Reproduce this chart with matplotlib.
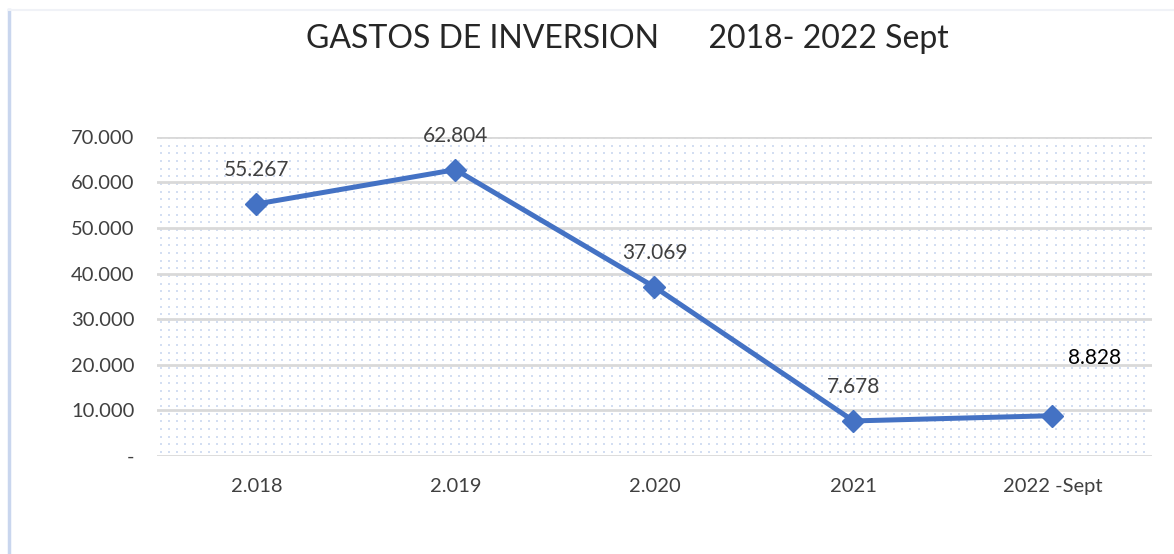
import matplotlib
matplotlib.use("Agg")
import matplotlib.pyplot as plt
import numpy as np
from matplotlib.lines import Line2D
from matplotlib.ticker import FuncFormatter

plt.rcParams["font.family"] = ["Lato", "DejaVu Sans"]

categories = ["2.018", "2.019", "2.020", "2021", "2022 -Sept"]
values = [55267, 62804, 37069, 7678, 8828]
labels = ["55.267", "62.804", "37.069", "7.678", "8.828"]
yticks = [0, 10000, 20000, 30000, 40000, 50000, 60000, 70000]

LINE = "#4472C4"
GRID = "#D9D9D9"
TXT = "#404040"


def fmt(v, _pos):
    if v == 0:
        return "-"
    return f"{v:,.0f}".replace(",", ".")


fig = plt.figure(figsize=(11.74, 5.54), dpi=100)
ax = fig.add_axes([0.1337, 0.177, 0.8475, 0.576])

x = np.arange(len(categories))
ax.set_xlim(-0.5, len(categories) - 0.5)
ax.set_ylim(0, 70000)

# dotted plot-area fill
gx, gy = np.meshgrid(np.arange(0.004, 1, 0.0081), np.arange(0.012, 1, 0.024))
ax.scatter(gx.ravel(), gy.ravel(), s=1.0, color="#D3DEF2", marker="s",
           linewidths=0, transform=ax.transAxes, zorder=0)

for t in yticks:
    ax.axhline(t, color=GRID, lw=2, zorder=1)

ax.plot(x, values, color=LINE, lw=3.6, marker="D", markersize=11,
        solid_capstyle="round", zorder=3)

offsets = [(0, 17), (0, 17), (0, 17), (0, 17), (30, 34)]
for i, (v, lab) in enumerate(zip(values, labels)):
    ax.annotate(lab, (x[i], v), xytext=offsets[i], textcoords="offset points",
                ha="center", va="bottom", fontsize=15,
                color="black" if i == 4 else TXT)

ax.set_xticks(x)
ax.set_xticklabels(categories)
ax.set_yticks(yticks)
ax.yaxis.set_major_formatter(FuncFormatter(fmt))
ax.tick_params(length=0, labelsize=14.5, colors=TXT)
ax.tick_params(axis="x", pad=16)
ax.tick_params(axis="y", pad=16)
for s in ax.spines.values():
    s.set_visible(False)

fig.text(0.534, 0.93, "GASTOS DE INVERSION      2018- 2022 Sept",
         ha="center", va="center", fontsize=23, color="#262626")

# outer frame of the chart
fig.add_artist(Line2D([0.008, 0.008], [0, 0.982], color="#C9D6EE", lw=2.5))
fig.add_artist(Line2D([0.008, 1.0], [0.982, 0.982], color="#F0F2F7", lw=1.5))

fig.savefig("out.png", dpi=100)
